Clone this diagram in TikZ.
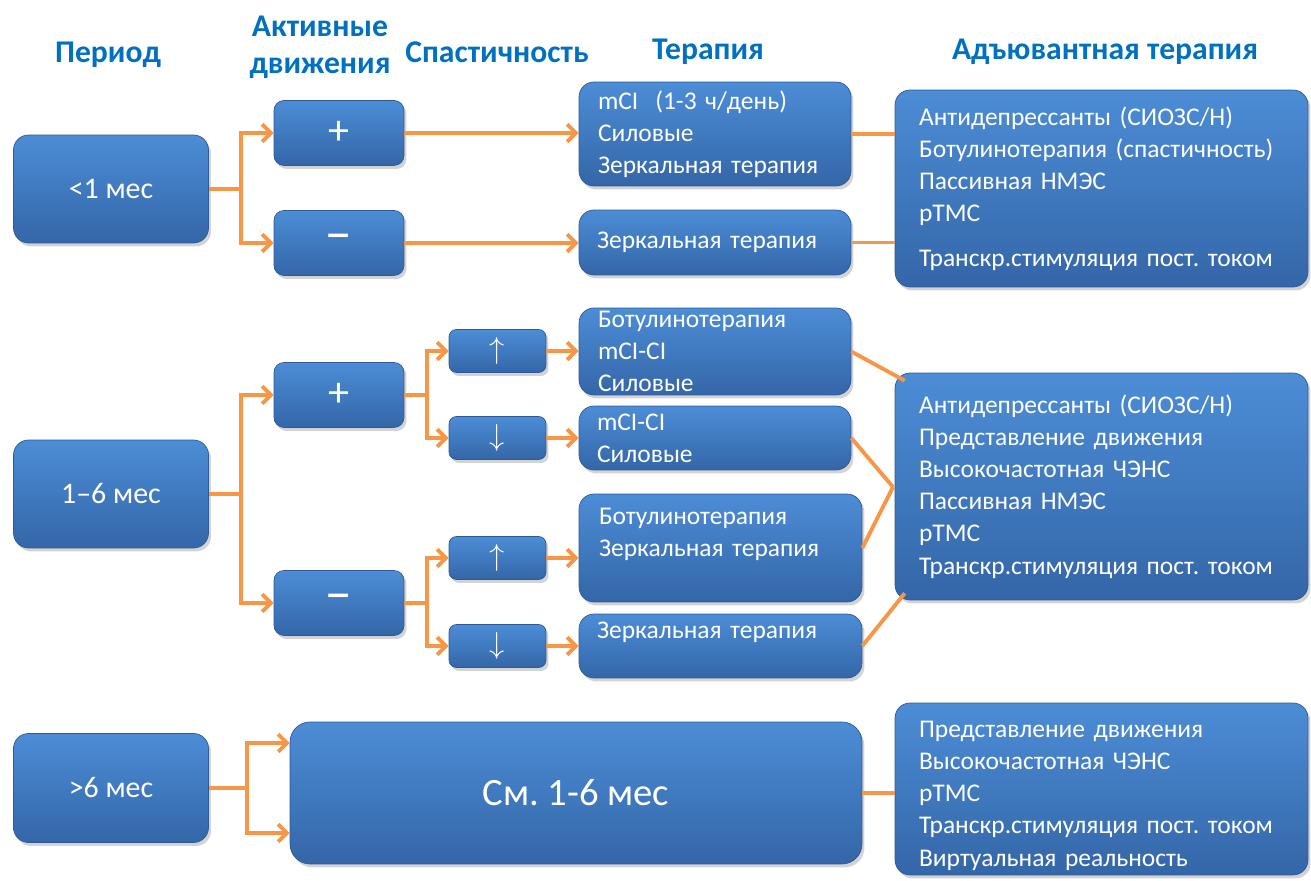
\documentclass[tikz,border=0pt]{standalone}
\usepackage{fontspec}
\setmainfont{Carlito}
\frenchspacing
\usetikzlibrary{arrows.meta,shadows}
\definecolor{boxtop}{RGB}{76,141,214}
\definecolor{boxbottom}{RGB}{52,102,168}
\definecolor{boxline}{RGB}{45,90,150}
\definecolor{linkorange}{RGB}{247,150,70}
\definecolor{headblue}{RGB}{0,112,192}
\tikzset{
  blue box/.style 2 args={
    top color=boxtop,
    bottom color=boxbottom,
    draw=boxline,
    line width=0.4pt,
    rounded corners=0.3cm,
    drop shadow={opacity=0.35, shadow xshift=0.05cm, shadow yshift=-0.07cm},
    minimum width={#1},
    minimum height={#2},
    inner sep=0pt,
    text=white,
    font=\fontsize{14.5}{18.3}\selectfont,
  },
  sign box/.style={
    blue box={2.6cm}{1.3cm},
    rounded corners=0.2cm,
    font=\fontsize{24}{26}\selectfont,
  },
  spast box/.style={
    blue box={1.94cm}{0.86cm},
    rounded corners=0.15cm,
    font=\fontsize{19}{20}\selectfont,
  },
  period/.style={
    font=\fontsize{17}{20}\selectfont,
  },
  list/.style 2 args={
    align=left,
    text width={#1},
    execute at begin node={\leftskip=#2},
  },
  heading/.style={
    text=headblue,
    font=\fontsize{18}{21}\selectfont\bfseries,
  },
  link/.style={
    draw=linkorange,
    line width=2.2pt,
  },
  arrow/.style={
    link,
    -{Straight Barb[length=5pt,width=10pt]},
  }
}
\begin{document}
\begin{tikzpicture}[x=0.02cm, y=-0.02cm]
  \useasboundingbox (0,0) rectangle (1311,881);

  % column headings
  \node [heading] (hPeriod) at (108,55) {Период};
  \node [heading, align=center] (hMove) at (320,47) {Активные\\движения};
  \node [heading] (hSpast) at (497,52) {Спастичность};
  \node [heading] (hTher) at (708,52) {Терапия};
  \node [heading] (hAdj) at (1105,52) {Адъювантная терапия};

  % < 1 month
  \node [blue box={3.9cm}{2.16cm}, period] (p1) at (111,189) {<1 мес};
  \node [sign box] (plus1) at (339,133) {+};
  \node [sign box, font=\fontsize{30}{30}\selectfont] (minus1) at (339,243) {−};
  \node [blue box={5.44cm}{2.08cm}, list={5.44cm}{0.38cm}] (t1) at (715,134)
    {mCI\ \ (1-3 ч/день)\\Силовые\\Зеркальная терапия};
  \node [blue box={5.44cm}{1.3cm}, list={5.44cm}{0.36cm}] (t2) at (715,242.5)
    {Зеркальная терапия};
  \node [blue box={8.26cm}{3.94cm}, list={8.26cm}{0.48cm}] (a1) at (1101.5,188.5)
    {Антидепрессанты (СИОЗС/Н)\\Ботулинотерапия (спастичность)\\Пассивная НМЭС\\рТМС\\[7pt]Транскр.стимуляция пост. током};

  % 1-6 months
  \node [blue box={3.9cm}{2.16cm}, period] (p2) at (111,494) {1--6 мес};
  \node [sign box] (plus2) at (339,395) {+};
  \node [sign box, font=\fontsize{30}{30}\selectfont] (minus2) at (339,603) {−};
  \node [spast box] (up1) at (497.5,351) {$\uparrow$};
  \node [spast box] (down1) at (497.5,438) {$\downarrow$};
  \node [spast box] (up2) at (497.5,558) {$\uparrow$};
  \node [spast box] (down2) at (497.5,646) {$\downarrow$};
  \node [blue box={5.44cm}{1.74cm}, list={5.44cm}{0.38cm}] (t3) at (715,351.5)
    {Ботулинотерапия\\mCI-CI\\Силовые};
  \node [blue box={5.44cm}{1.28cm}, list={5.44cm}{0.36cm}] (t4) at (715,438)
    {mCI-CI\\Силовые};
  \node [blue box={5.66cm}{2.16cm}, list={5.66cm}{0.4cm}] (t5) at (720.5,548)
    {Ботулинотерапия\\Зеркальная терапия\\\mbox{}};
  \node [blue box={5.66cm}{1.28cm}, list={5.66cm}{0.36cm}] (t6) at (720.5,646)
    {Зеркальная терапия\\\mbox{}};
  \node [blue box={8.26cm}{4.54cm}, list={8.26cm}{0.48cm}] (a2) at (1101.5,486.5)
    {Антидепрессанты (СИОЗС/Н)\\Представление движения\\Высокочастотная ЧЭНС\\Пассивная НМЭС\\рТМС\\Транскр.стимуляция пост. током};

  % > 6 months
  \node [blue box={3.9cm}{2.18cm}, period] (p3) at (111,788) {>6 мес};
  \node [blue box={11.44cm}{2.84cm}, rounded corners=0.4cm, font=\fontsize{22}{26}\selectfont] (big) at (576,793) {См. 1-6 мес};
  \node [blue box={8.26cm}{3.44cm}, list={8.26cm}{0.48cm}] (a3) at (1101.5,789)
    {\\[-1.5pt]Представление движения\\Высокочастотная ЧЭНС\\рТМС\\Транскр.стимуляция пост. током\\Виртуальная реальность};

  % branch points
  \coordinate (j1) at (241,189);
  \coordinate (j2) at (241,494);
  \coordinate (j3) at (427,395);
  \coordinate (j4) at (427,603);
  \coordinate (j5) at (247,788);
  \coordinate (m2) at (893,487);

  % connectors
  \draw [link] (p1.east) -- (j1);
  \draw [arrow] (j1) |- (plus1.west);
  \draw [arrow] (j1) |- (minus1.west);
  \draw [arrow] (plus1.east) -- (plus1.east -| t1.west);
  \draw [arrow] (minus1.east) -- (minus1.east -| t2.west);
  \draw [link] (t1.east) -- (t1.east -| a1.west);
  \draw [link] (t2.east) -- (t2.east -| a1.west);

  \draw [link] (p2.east) -- (j2);
  \draw [arrow] (j2) |- (plus2.west);
  \draw [arrow] (j2) |- (minus2.west);
  \draw [link] (plus2.east) -- (j3);
  \draw [arrow] (j3) |- (up1.west);
  \draw [arrow] (j3) |- (down1.west);
  \draw [link] (minus2.east) -- (j4);
  \draw [arrow] (j4) |- (up2.west);
  \draw [arrow] (j4) |- (down2.west);
  \draw [arrow] (up1.east) -- (up1.east -| t3.west);
  \draw [arrow] (down1.east) -- (down1.east -| t4.west);
  \draw [arrow] (up2.east) -- (up2.east -| t5.west);
  \draw [arrow] (down2.east) -- (down2.east -| t6.west);
  \draw [link] (t3.east) -- ([shift={(0.2cm,-0.16cm)}]a2.north west);
  \draw [link] (t4.east) -- (m2);
  \draw [link] (t5.east) -- (m2);
  \draw [link] (t6.east) -- ([shift={(0.2cm,0.14cm)}]a2.south west);

  \draw [link] (p3.east) -- (j5);
  \draw [arrow] (j5) |- ([yshift=1.0cm]big.west);
  \draw [arrow] (j5) |- ([yshift=-0.8cm]big.west);
  \draw [link] (big.east) -- (big.east -| a3.west);
\end{tikzpicture}
\end{document}
